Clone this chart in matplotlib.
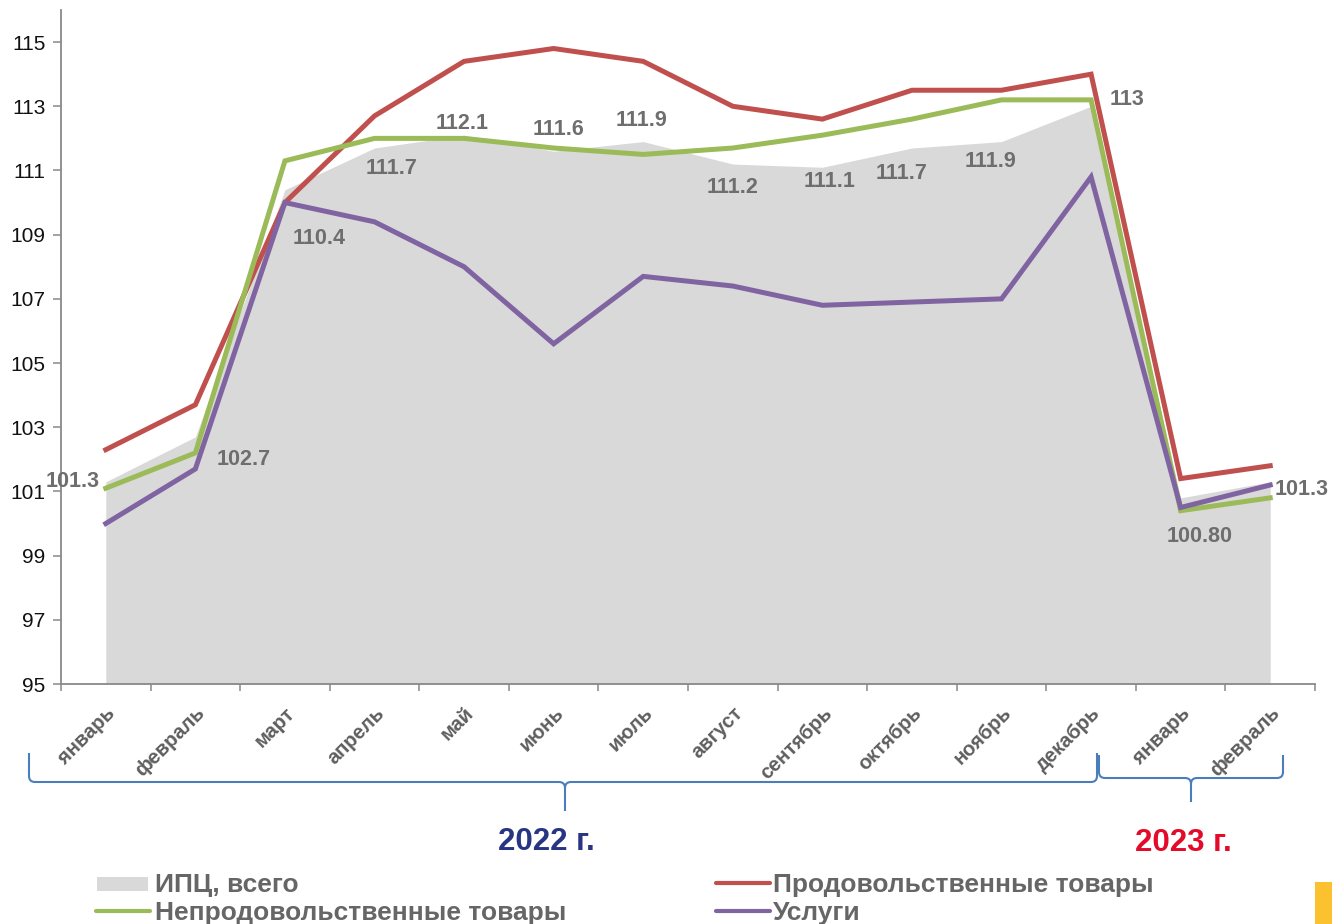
import matplotlib
matplotlib.use("Agg")
import matplotlib.pyplot as plt
from matplotlib.path import Path
from matplotlib.patches import PathPatch, Rectangle
from matplotlib.lines import Line2D
from matplotlib.ticker import FixedLocator, NullFormatter

plt.rcParams['font.family'] = ['Liberation Sans', 'DejaVu Sans']

# ---------------- data ----------------
months = ["январь", "февраль", "март", "апрель", "май", "июнь", "июль",
          "август", "сентябрь", "октябрь", "ноябрь", "декабрь",
          "январь", "февраль"]
cpi = [101.3, 102.7, 110.4, 111.7, 112.1, 111.6, 111.9, 111.2, 111.1,
       111.7, 111.9, 113.0, 100.8, 101.3]
cpi_labels = ["101.3", "102.7", "110.4", "111.7", "112.1", "111.6", "111.9",
              "111.2", "111.1", "111.7", "111.9", "113", "100.80", "101.3"]
food = [102.3, 103.7, 110.0, 112.7, 114.4, 114.8, 114.4, 113.0, 112.6,
        113.5, 113.5, 114.0, 101.4, 101.8]
nonfood = [101.1, 102.2, 111.3, 112.0, 112.0, 111.7, 111.5, 111.7, 112.1,
           112.6, 113.2, 113.2, 100.4, 100.8]
services = [100.0, 101.7, 110.0, 109.4, 108.0, 105.6, 107.7, 107.4, 106.8,
            106.9, 107.0, 110.8, 100.5, 101.2]
yticks = [95, 97, 99, 101, 103, 105, 107, 109, 111, 113, 115]
series_names = ["ИПЦ, всего", "Продовольственные товары",
                "Непродовольственные товары", "Услуги"]
year_labels = ["2022 г.", "2023 г."]

# label offsets (pixels, dx right, dy down) relative to CPI points
label_offsets_px = [(-33, 0), (48, 23), (34, 49), (17, 20), (-2, -12),
                    (5, -22), (-2, -21), (0, 23), (7, 14), (-10, 25),
                    (-11, 20), (36, -7), (19, 39), (31, 8)]

# ---------------- style ----------------
W, H = 1332, 924
C_AREA = "#d9d9d9"
C_FOOD = "#c0504d"
C_NONFOOD = "#9bbb59"
C_SERV = "#8064a2"
C_LABEL = "#6e6e6e"
C_TICK = "#5f5f5f"
C_AXIS = "#898989"
C_BRACE = "#4a7ebb"

fig = plt.figure(figsize=(W / 100, H / 100), dpi=100)
ax = fig.add_axes([61 / W, (H - 684) / H, (1315 - 61) / W, (684 - 10) / H])

x = list(range(len(months)))
ax.fill_between(x, cpi, 95, color=C_AREA, lw=0, zorder=1)
lw = 3.6
ax.plot(x, food, color=C_FOOD, lw=lw, zorder=3, solid_joinstyle='miter')
ax.plot(x, nonfood, color=C_NONFOOD, lw=lw, zorder=4, solid_joinstyle='miter')
ax.plot(x, services, color=C_SERV, lw=lw, zorder=5, solid_joinstyle='miter')

for i, (v, t) in enumerate(zip(cpi, cpi_labels)):
    dx, dy = label_offsets_px[i]
    ax.annotate(t, xy=(i, v), xytext=(dx * 0.72, -dy * 0.72),
                textcoords='offset points', ha='center', va='center',
                fontsize=15.5, fontweight='bold', color=C_LABEL, zorder=6)

ax.set_xlim(-0.5, 13.5)
ax.set_ylim(95, 116)

ax.set_yticks(yticks)
ax.set_yticklabels([str(t) for t in yticks])
ax.tick_params(axis='y', direction='out', length=6, width=1.1, color=C_AXIS,
               labelsize=15, labelcolor='#111111', pad=5)

ax.set_xticks(x)
ax.set_xticklabels(months, rotation=45, ha='right', rotation_mode='anchor',
                   fontweight='bold')
ax.tick_params(axis='x', which='major', length=0, labelsize=14.5,
               labelcolor=C_TICK, pad=14)
ax.xaxis.set_minor_locator(FixedLocator([k - 0.5 for k in range(len(months) + 1)]))
ax.xaxis.set_minor_formatter(NullFormatter())
ax.tick_params(axis='x', which='minor', direction='out', length=5, width=1.1,
               color=C_AXIS)

for s in ['top', 'right']:
    ax.spines[s].set_visible(False)
for s in ['left', 'bottom']:
    ax.spines[s].set_color(C_AXIS)
    ax.spines[s].set_linewidth(1.3)

# ---------------- braces (figure pixel coords) ----------------
def fx(px):
    return px / W


def fy(py):
    return 1 - py / H


def brace(x0, x1, xm, ytop, yline, ytip, r=6):
    verts = [
        (x0, ytop), (x0, yline - r), (x0, yline), (x0 + r, yline),
        (xm - r, yline), (xm, yline), (xm, yline + r), (xm, ytip),
        (xm, yline + r), (xm, yline), (xm + r, yline),
        (x1 - r, yline), (x1, yline), (x1, yline - r), (x1, ytop),
    ]
    codes = [Path.MOVETO, Path.LINETO, Path.CURVE3, Path.CURVE3,
             Path.LINETO, Path.CURVE3, Path.CURVE3, Path.LINETO,
             Path.MOVETO, Path.CURVE3, Path.CURVE3,
             Path.LINETO, Path.CURVE3, Path.CURVE3, Path.LINETO]
    verts = [(fx(a), fy(b)) for a, b in verts]
    p = PathPatch(Path(verts, codes), transform=fig.transFigure,
                  fill=False, edgecolor=C_BRACE, lw=1.5)
    fig.add_artist(p)


brace(29, 1097, 565, 753, 782, 811)
brace(1099, 1283, 1191, 755, 778, 802)

fig.text(fx(546), fy(850), year_labels[0], ha='center', va='baseline',
         fontsize=22.5, fontweight='bold', color="#283583")
fig.text(fx(1183), fy(851), year_labels[1], ha='center', va='baseline',
         fontsize=22.5, fontweight='bold', color="#e30a2a")

# ---------------- legend ----------------
LEG_FS = 19
LEG_C = "#666666"
fig.add_artist(Rectangle((fx(97), fy(891)), (148 - 97) / W, 14 / H,
                         transform=fig.transFigure, color=C_AREA, lw=0))
fig.text(fx(155), fy(892), series_names[0], ha='left', va='baseline',
         fontsize=LEG_FS, fontweight='bold', color=LEG_C)
fig.add_artist(Line2D([fx(96), fx(150)], [fy(911), fy(911)],
                      transform=fig.transFigure, color=C_NONFOOD, lw=3,
                      solid_capstyle='round'))
fig.text(fx(155), fy(920), series_names[2], ha='left', va='baseline',
         fontsize=LEG_FS, fontweight='bold', color=LEG_C)
fig.add_artist(Line2D([fx(716), fx(770)], [fy(883), fy(883)],
                      transform=fig.transFigure, color=C_FOOD, lw=3,
                      solid_capstyle='round'))
fig.text(fx(773), fy(892), series_names[1], ha='left', va='baseline',
         fontsize=LEG_FS, fontweight='bold', color=LEG_C)
fig.add_artist(Line2D([fx(716), fx(770)], [fy(911), fy(911)],
                      transform=fig.transFigure, color=C_SERV, lw=3,
                      solid_capstyle='round'))
fig.text(fx(773), fy(920), series_names[3], ha='left', va='baseline',
         fontsize=LEG_FS, fontweight='bold', color=LEG_C)

# yellow corner mark
fig.add_artist(Rectangle((fx(1315), 0), 17 / W, 42 / H,
                         transform=fig.transFigure, color="#fbc12e", lw=0))

fig.savefig("out.png", dpi=100)
